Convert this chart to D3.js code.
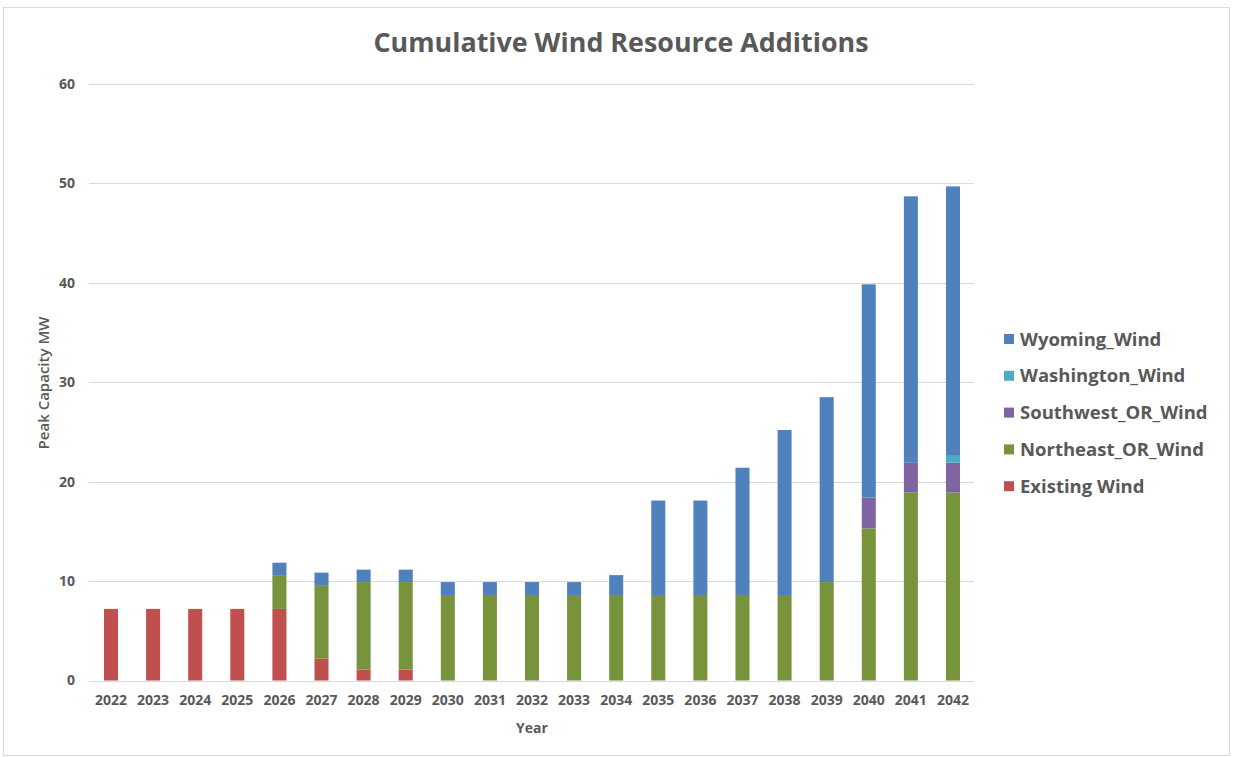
<!DOCTYPE html>
<html><head><meta charset="utf-8">
<script src="https://cdn.jsdelivr.net/npm/d3@7"></script>
<style>body{margin:0;background:#fff}svg{display:block}</style>
</head><body>
<svg id="c" width="1235" height="757"></svg>
<script>
const years = ["2022","2023","2024","2025","2026","2027","2028","2029","2030","2031","2032","2033","2034","2035","2036","2037","2038","2039","2040","2041","2042"];
const existingWind   = [7.2,7.2,7.2,7.2,7.2,2.2,1.1,1.1,0,0,0,0,0,0,0,0,0,0,0,0,0];
const northeastOR    = [0,0,0,0,3.4,7.4,8.8,8.8,8.6,8.6,8.6,8.6,8.6,8.6,8.6,8.6,8.6,9.9,15.3,18.9,18.9];
const southwestOR    = [0,0,0,0,0,0,0,0,0,0,0,0,0,0,0,0,0,0,3.1,3.0,3.0];
const washingtonWind = [0,0,0,0,0,0,0,0,0,0,0,0,0,0,0,0,0,0,0,0,0.7];
const wyomingWind    = [0,0,0,0,1.25,1.25,1.25,1.25,1.3,1.3,1.3,1.3,2.0,9.5,9.5,12.8,16.6,18.6,21.45,26.8,27.1];
const yTicks = [0,10,20,30,40,50,60];

const seriesNames = ["Existing Wind","Northeast_OR_Wind","Southwest_OR_Wind","Washington_Wind","Wyoming_Wind"];
const seriesValues = [existingWind,northeastOR,southwestOR,washingtonWind,wyomingWind];
const colors = ["#C0504D","#77933C","#8064A2","#4BACC6","#4F81BD"];

const table = years.map((y,i)=>{const o={year:y}; seriesNames.forEach((s,j)=>o[s]=seriesValues[j][i]); return o;});
const stack = d3.stack().keys(seriesNames)(table);

const svg = d3.select("#c");
const font = "'Open Sans', 'DejaVu Sans', sans-serif";
const grey = "#595959";

svg.append("rect").attr("x",3.5).attr("y",7.5).attr("width",1226).attr("height",748)
  .attr("fill","#fff").attr("stroke","#d9d9d9");

const x = d3.scaleBand().domain(years).range([90,974]).paddingInner(0.667).paddingOuter(0.333);
const y = d3.scaleLinear().domain([0,60]).range([680.5,84]);

// gridlines
svg.append("g").selectAll("line").data(yTicks).join("line")
  .attr("x1",89).attr("x2",974).attr("y1",d=>Math.round(y(d))+0.5).attr("y2",d=>Math.round(y(d))+0.5)
  .attr("stroke","#d9d9d9").attr("stroke-width",1);

// y axis labels
const ya = svg.append("g").attr("transform","translate(75,0)")
  .call(d3.axisLeft(y).tickValues(yTicks).tickSize(0).tickPadding(0));
ya.select(".domain").remove();
ya.selectAll("text").attr("font-family",font).attr("font-size",14).attr("font-weight","bold").attr("fill",grey);

// bars
svg.append("g").selectAll("g").data(stack).join("g").attr("fill",(d,i)=>colors[i])
  .selectAll("rect").data(d=>d).join("rect")
  .attr("x",d=>x(d.data.year)).attr("width",x.bandwidth())
  .attr("y",d=>y(d[1])).attr("height",d=>Math.max(0,y(d[0])-y(d[1])));

// x axis
const xa = svg.append("g").attr("transform","translate(0,"+681+")")
  .call(d3.axisBottom(x).tickSize(0).tickPadding(14));
xa.select(".domain").attr("stroke","#d9d9d9").attr("d","M89,0.5H974");
xa.selectAll("text").attr("font-family",font).attr("font-size",14).attr("font-weight","bold").attr("fill",grey);

// titles
svg.append("text").attr("x",621).attr("y",52).attr("text-anchor","middle")
  .attr("font-family",font).attr("font-size",27).attr("font-weight","bold").attr("fill",grey)
  .attr("textLength",495).attr("lengthAdjust","spacingAndGlyphs")
  .text("Cumulative Wind Resource Additions");
svg.append("text").attr("x",532).attr("y",733).attr("text-anchor","middle")
  .attr("font-family",font).attr("font-size",14).attr("font-weight","bold").attr("fill",grey).text("Year");
svg.append("text").attr("transform","translate(49,383) rotate(-90)").attr("text-anchor","middle")
  .attr("font-family",font).attr("font-size",15).attr("font-weight",600).attr("fill",grey).text("Peak Capacity MW");

// legend (reverse order)
const legOrder = [4,3,2,1,0];
const lg = svg.append("g").selectAll("g").data(legOrder).join("g")
  .attr("transform",(d,i)=>`translate(1004,${339+i*36.8})`);
lg.append("rect").attr("x",0).attr("y",-5).attr("width",10).attr("height",10).attr("fill",d=>colors[d]);
lg.append("text").attr("x",16).attr("y",6.5).attr("font-family",font).attr("font-size",18.5).attr("font-weight","bold")
  .attr("fill",grey).text(d=>seriesNames[d]);
</script>
</body></html>
